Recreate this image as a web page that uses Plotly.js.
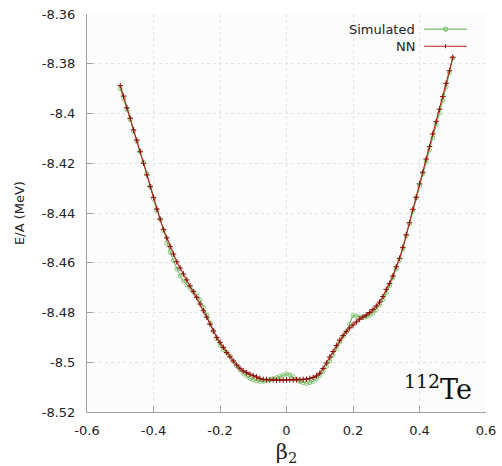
<!DOCTYPE html>
<html>
<head>
<meta charset="utf-8">
<script src="https://cdn.plot.ly/plotly-3.0.1.min.js"></script>
<style>html,body{margin:0;padding:0;background:#fff;}#chart{width:502px;height:466px;}</style>
</head>
<body>
<div id="chart"></div>
<script>
const beta = [-0.50,-0.49,-0.48,-0.47,-0.46,-0.45,-0.44,-0.43,-0.42,-0.41,
  -0.40,-0.39,-0.38,-0.37,-0.36,-0.35,-0.34,-0.33,-0.32,-0.31,
  -0.30,-0.29,-0.28,-0.27,-0.26,-0.25,-0.24,-0.23,-0.22,-0.21,
  -0.20,-0.19,-0.18,-0.17,-0.16,-0.15,-0.14,-0.13,-0.12,-0.11,
  -0.10,-0.09,-0.08,-0.07,-0.06,-0.05,-0.04,-0.03,-0.02,-0.01,
  0.00,
  0.01,0.02,0.03,0.04,0.05,0.06,0.07,0.08,0.09,0.10,
  0.11,0.12,0.13,0.14,0.15,0.16,0.17,0.18,0.19,0.20,
  0.21,0.22,0.23,0.24,0.25,0.26,0.27,0.28,0.29,0.30,
  0.31,0.32,0.33,0.34,0.35,0.36,0.37,0.38,0.39,0.40,
  0.41,0.42,0.43,0.44,0.45,0.46,0.47,0.48,0.49,0.50];

const simulated = [-8.3900,-8.3940,-8.3984,-8.4024,-8.4072,-8.4113,-8.4151,-8.4195,-8.4241,-8.4293,
  -8.4344,-8.4390,-8.4424,-8.4470,-8.4521,-8.4557,-8.4591,-8.4625,-8.4653,-8.4673,
  -8.4689,-8.4703,-8.4716,-8.4732,-8.4750,-8.4780,-8.4810,-8.4842,-8.4874,-8.4905,
  -8.4931,-8.4949,-8.4961,-8.4975,-8.4995,-8.5015,-8.5031,-8.5045,-8.5055,-8.5065,
  -8.5071,-8.5075,-8.5077,-8.5077,-8.5074,-8.5070,-8.5066,-8.5062,-8.5057,-8.5051,
  -8.5047,
  -8.5050,-8.5058,-8.5069,-8.5078,-8.5082,-8.5085,-8.5082,-8.5077,-8.5067,-8.5053,
  -8.5037,-8.5017,-8.4995,-8.4971,-8.4945,-8.4919,-8.4897,-8.4878,-8.4846,-8.4812,
  -8.4814,-8.4818,-8.4820,-8.4818,-8.4812,-8.4802,-8.4788,-8.4770,-8.4748,-8.4722,
  -8.4692,-8.4661,-8.4625,-8.4589,-8.4545,-8.4493,-8.4444,-8.4392,-8.4340,-8.4292,
  -8.4243,-8.4195,-8.4147,-8.4097,-8.4046,-8.3998,-8.3946,-8.3893,-8.3837,-8.3777];

const nn = [-8.3888,-8.3930,-8.3977,-8.4019,-8.4066,-8.4107,-8.4154,-8.4200,-8.4247,-8.4294,
  -8.4337,-8.4384,-8.4425,-8.4466,-8.4500,-8.4535,-8.4565,-8.4596,-8.4621,-8.4645,
  -8.4669,-8.4693,-8.4716,-8.4739,-8.4766,-8.4793,-8.4819,-8.4847,-8.4874,-8.4900,
  -8.4920,-8.4940,-8.4961,-8.4978,-8.4995,-8.5011,-8.5024,-8.5035,-8.5042,-8.5048,
  -8.5054,-8.5059,-8.5065,-8.5069,-8.5070,-8.5071,-8.5071,-8.5072,-8.5072,-8.5072,
  -8.5071,
  -8.5071,-8.5071,-8.5070,-8.5070,-8.5069,-8.5068,-8.5065,-8.5061,-8.5055,-8.5044,
  -8.5025,-8.5003,-8.4979,-8.4957,-8.4933,-8.4911,-8.4893,-8.4876,-8.4862,-8.4850,
  -8.4838,-8.4827,-8.4818,-8.4810,-8.4800,-8.4788,-8.4774,-8.4758,-8.4736,-8.4707,
  -8.4683,-8.4653,-8.4616,-8.4582,-8.4538,-8.4488,-8.4439,-8.4385,-8.4337,-8.4283,
  -8.4236,-8.4183,-8.4133,-8.4082,-8.4033,-8.3983,-8.3932,-8.3879,-8.3828,-8.3774];

const xTickVals = [-0.6,-0.4,-0.2,0,0.2,0.4,0.6];
const xTickText = ["-0.6","-0.4","-0.2","0","0.2","0.4","0.6"];
const yTickVals = [-8.36,-8.38,-8.40,-8.42,-8.44,-8.46,-8.48,-8.50,-8.52];
const yTickText = ["-8.36","-8.38","-8.4","-8.42","-8.44","-8.46","-8.48","-8.5","-8.52"];
const seriesNames = ["Simulated","NN"];

const greenLine = '#5aa845';
const greenMark = '#82c672';
const redLine = '#b0201a';
const redMark = '#8a0a05';

const traces = [
  {x: beta, y: simulated, name: seriesNames[0], type: 'scatter', mode: 'lines+markers',
   line: {color: greenLine, width: 1},
   marker: {symbol: 'circle-open', size: 4, color: greenMark, line: {width: 1, color: greenMark}}},
  {x: beta, y: nn, name: seriesNames[1], type: 'scatter', mode: 'lines+markers',
   line: {color: redLine, width: 1.1},
   marker: {symbol: 'cross-thin-open', size: 4, color: redMark, line: {width: 1, color: redMark}}}
];

const font = 'DejaVu Sans, Liberation Sans, sans-serif';
const lx0 = 0.845, lx1 = 0.952, lxm = 0.8985;
const ly1 = 0.962, ly2 = 0.919;
const layout = {
  width: 502, height: 466,
  margin: {l: 87, r: 16, t: 14, b: 54},
  paper_bgcolor: '#ffffff',
  plot_bgcolor: '#fcfcfc',
  showlegend: false,
  font: {family: font, size: 13, color: '#222'},
  xaxis: {
    range: [-0.6, 0.6], tickmode: 'array', tickvals: xTickVals, ticktext: xTickText,
    showline: true, linecolor: '#a0a0a0', linewidth: 1, mirror: false,
    ticks: 'inside', ticklen: 6, tickcolor: '#a0a0a0',
    showgrid: true, gridcolor: '#e4e4e4', griddash: 'dot', gridwidth: 1,
    zeroline: false, ticklabelstandoff: 6,
    tickfont: {family: font, size: 13, color: '#222'},
    title: {text: 'β<sub>2</sub>', font: {family: 'DejaVu Serif, serif', size: 21, color: '#222'}, standoff: 8}
  },
  yaxis: {
    range: [-8.52, -8.36], tickmode: 'array', tickvals: yTickVals, ticktext: yTickText,
    showline: true, linecolor: '#a0a0a0', linewidth: 1, mirror: false,
    ticks: 'inside', ticklen: 6, tickcolor: '#a0a0a0',
    showgrid: true, gridcolor: '#e4e4e4', griddash: 'dot', gridwidth: 1,
    zeroline: false, ticklabelstandoff: 8,
    tickfont: {family: font, size: 13, color: '#222'},
    title: {text: 'E/A (MeV)', font: {family: font, size: 13, color: '#222'}, standoff: 14}
  },
  shapes: [
    {type: 'line', xref: 'paper', yref: 'paper', x0: lx0, x1: lx1, y0: ly1, y1: ly1, line: {color: greenLine, width: 1}},
    {type: 'circle', xref: 'paper', yref: 'paper', x0: lxm - 0.005, x1: lxm + 0.005, y0: ly1 - 0.005, y1: ly1 + 0.005, line: {color: greenMark, width: 1.2}},
    {type: 'line', xref: 'paper', yref: 'paper', x0: lx0, x1: lx1, y0: ly2, y1: ly2, line: {color: redLine, width: 1.1}},
    {type: 'line', xref: 'paper', yref: 'paper', x0: lxm, x1: lxm, y0: ly2 - 0.005, y1: ly2 + 0.005, line: {color: redMark, width: 1}}
  ],
  annotations: [
    {xref: 'paper', yref: 'paper', x: 0.826, y: ly1, xanchor: 'right', yanchor: 'middle', showarrow: false,
     text: seriesNames[0], font: {family: font, size: 13, color: '#222'}},
    {xref: 'paper', yref: 'paper', x: 0.826, y: ly2, xanchor: 'right', yanchor: 'middle', showarrow: false,
     text: seriesNames[1], font: {family: font, size: 13, color: '#222'}},
    {xref: 'paper', yref: 'paper', x: 0.97, y: 0.012, xanchor: 'right', yanchor: 'bottom', showarrow: false,
     text: '<sup>112</sup>Te', font: {family: 'DejaVu Serif, Liberation Serif, serif', size: 27, color: '#111'}}
  ]
};

Plotly.newPlot('chart', traces, layout, {displayModeBar: false, staticPlot: true});
</script>
</body>
</html>
